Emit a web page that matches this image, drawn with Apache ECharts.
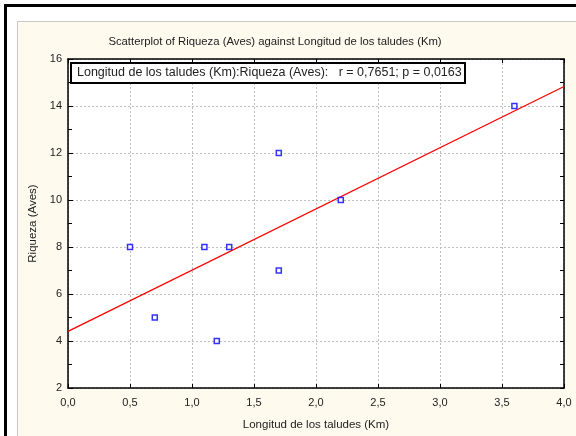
<!DOCTYPE html>
<html>
<head>
<meta charset="utf-8">
<script src="https://cdn.jsdelivr.net/npm/echarts@6/dist/echarts.min.js"></script>
<style>
html,body{margin:0;padding:0;background:#fff;}
#c{width:576px;height:436px;}
</style>
</head>
<body>
<div id="c"></div>
<script>
var titleText = 'Scatterplot of Riqueza (Aves) against Longitud de los taludes (Km)';
var xName = 'Longitud de los taludes (Km)';
var yName = 'Riqueza (Aves)';
var legendText = 'Longitud de los taludes (Km):Riqueza (Aves):   r = 0,7651; p = 0,0163';
var xVals = [0.5, 0.7, 1.1, 1.2, 1.3, 1.7, 1.7, 2.2, 3.6];
var yVals = [8, 5, 8, 4, 8, 12, 7, 10, 14];
var fitX = [0, 4];
var fitY = [4.41, 14.83];

var pts = xVals.map(function (x, i) { return [x, yVals[i]]; });
var fitPts = fitX.map(function (x, i) { return [x, fitY[i]]; });
var fmt = function (v) { return v.toFixed(1).replace('.', ','); };
var FONT = 'Liberation Sans, Arial, sans-serif';
var grid = {left: 68, top: 59, right: 12, bottom: 46};
var split = {show: true, lineStyle: {color: '#bdbdbd', type: [2, 2], width: 1}};

var chart = echarts.init(document.getElementById('c'), null, {renderer: 'canvas'});
chart.setOption({
  backgroundColor: '#ffffff',
  animation: false,
  title: {
    text: titleText, left: 270, top: 31, textAlign: 'center',
    textStyle: {fontFamily: FONT, fontSize: 11.3, fontWeight: 'normal', color: '#222'}
  },
  grid: Object.assign({show: true, backgroundColor: '#ffffff', borderWidth: 0}, grid),
  graphic: [
    {type: 'rect', z: -100, shape: {x: 4, y: 4, width: 572, height: 3}, style: {fill: '#000'}},
    {type: 'rect', z: -100, shape: {x: 4, y: 4, width: 3, height: 432}, style: {fill: '#000'}},
    {type: 'rect', z: -99, shape: {x: 17.5, y: 21.5, width: 570, height: 420}, style: {fill: '#fefaee', stroke: '#c8c8c8', lineWidth: 1}},
    {type: 'rect', z: 100, shape: {x: 71, y: 63, width: 394, height: 20}, style: {fill: '#ffffff', stroke: '#000', lineWidth: 2}},
    {type: 'text', z: 101, left: 77, top: 66, style: {text: legendText, font: '12.5px ' + FONT, fill: '#222'}}
  ],
  xAxis: [{
    type: 'value', min: 0, max: 4, interval: 0.5, position: 'bottom',
    name: xName, nameLocation: 'middle', nameGap: 31,
    nameTextStyle: {fontFamily: FONT, fontSize: 11.5, color: '#222'},
    axisLine: {show: true, onZero: false, lineStyle: {color: '#000', width: 1.5}},
    axisTick: {show: true, inside: true, length: 4, lineStyle: {color: '#000'}},
    axisLabel: {formatter: fmt, fontFamily: FONT, fontSize: 11, color: '#222', margin: 9},
    splitLine: split
  }, {
    type: 'value', min: 0, max: 4, interval: 0.5, position: 'top',
    axisLine: {show: true, onZero: false, lineStyle: {color: '#000', width: 1.5}},
    axisTick: {show: true, inside: true, length: 4, lineStyle: {color: '#000'}},
    axisLabel: {show: false}, splitLine: {show: false}
  }],
  yAxis: [{
    type: 'value', min: 2, max: 16, interval: 2, position: 'left',
    name: yName, nameLocation: 'middle', nameGap: 28,
    nameTextStyle: {fontFamily: FONT, fontSize: 11.5, color: '#222'},
    axisLine: {show: true, onZero: false, lineStyle: {color: '#000', width: 1.5}},
    axisTick: {show: true, inside: true, length: 5, lineStyle: {color: '#000'}},
    minorTick: {show: true, splitNumber: 2, length: 4, lineStyle: {color: '#000'}},
    axisLabel: {fontFamily: FONT, fontSize: 11, color: '#222', margin: 6},
    splitLine: split
  }, {
    type: 'value', min: 2, max: 16, interval: 1, position: 'right',
    axisLine: {show: true, onZero: false, lineStyle: {color: '#000', width: 1.5}},
    axisTick: {show: true, inside: true, length: 4, lineStyle: {color: '#000'}},
    axisLabel: {show: false}, splitLine: {show: false}
  }],
  series: [{
    type: 'line', data: fitPts, xAxisIndex: 0, yAxisIndex: 0,
    showSymbol: false, symbol: 'none', silent: true,
    lineStyle: {color: '#ff0000', width: 1.3}, z: 3
  }, {
    type: 'scatter', data: pts, xAxisIndex: 0, yAxisIndex: 0,
    symbol: 'rect', symbolSize: [5, 5],
    itemStyle: {color: '#ffffff', borderColor: '#0000ff', borderWidth: 1.5}, z: 4
  }]
});
</script>
</body>
</html>
